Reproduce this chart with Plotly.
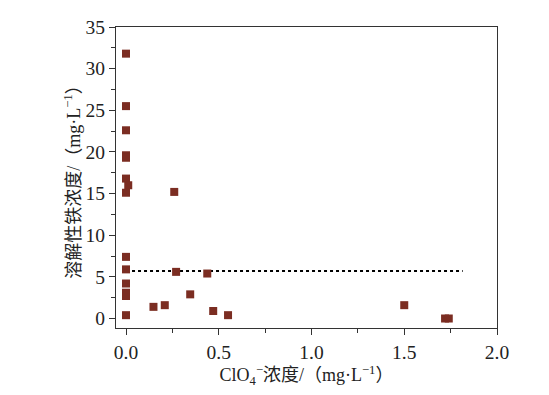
import plotly.graph_objects as go

# ClO4- concentration (mg/L) and dissolved iron concentration (mg/L)
clo4 = [0.0, 0.0, 0.0, 0.0, 0.0, 0.0, 0.012, 0.0, 0.26, 0.0, 0.0, 0.27, 0.438,
        0.0, 0.0, 0.0, 0.346, 0.148, 0.209, 0.47, 0.55, 0.0, 1.50, 1.72, 1.74]
iron = [31.8, 25.5, 22.6, 19.6, 19.3, 16.8, 16.0, 15.1, 15.2, 7.4, 5.9, 5.6, 5.4,
        4.2, 3.1, 2.7, 2.9, 1.4, 1.6, 0.9, 0.4, 0.4, 1.6, 0.0, 0.0]

ref_x = [0.0, 1.815]
ref_y = [5.7, 5.7]

x_ticks = [0.0, 0.5, 1.0, 1.5, 2.0]
x_ticklabels = ["0.0", "0.5", "1.0", "1.5", "2.0"]
y_ticks = [0, 5, 10, 15, 20, 25, 30, 35]

serif = "Liberation Serif, Noto Sans CJK SC, serif"

fig = go.Figure()
fig.add_trace(go.Scatter(
    x=ref_x, y=ref_y, mode="lines",
    line=dict(color="black", width=2, dash="dot"),
    showlegend=False, hoverinfo="skip",
))
fig.add_trace(go.Scatter(
    x=clo4, y=iron, mode="markers",
    marker=dict(symbol="square", size=8, color="#7b2d22",
                line=dict(width=0)),
    showlegend=False,
))

axis_common = dict(
    showline=True, linecolor="#333333", linewidth=1.3, mirror=True,
    ticks="outside", ticklen=6, tickwidth=1.3, tickcolor="#333333",
    showgrid=False, zeroline=False, automargin=False,
    tickfont=dict(family=serif, size=19.5, color="#222222"),
)

fig.update_xaxes(
    range=[-0.054, 2.0], tickvals=x_ticks, ticktext=x_ticklabels,
    minor=dict(ticks="outside", ticklen=4, tickwidth=1.3, tickcolor="#333333",
               dtick=0.25, tick0=0, showgrid=False),
    title=dict(text="ClO<sub>4</sub><sup>−</sup>浓度/（mg·L<sup>−1</sup>）",
               font=dict(family=serif, size=18, color="#222222"), standoff=0),
    **axis_common,
)
fig.update_yaxes(
    range=[-1.14, 35], tickvals=y_ticks,
    minor=dict(ticks="outside", ticklen=4, tickwidth=1.3, tickcolor="#333333",
               dtick=2.5, tick0=0, showgrid=False),
    title=dict(text="溶解性铁浓度/（mg·L<sup>−1</sup>）",
               font=dict(family=serif, size=18, color="#222222"), standoff=0),
    **axis_common,
)

fig.update_layout(
    width=541, height=387,
    margin=dict(l=108, r=52, t=19, b=67),
    paper_bgcolor="white", plot_bgcolor="white",
)

fig.write_html("out.html")
